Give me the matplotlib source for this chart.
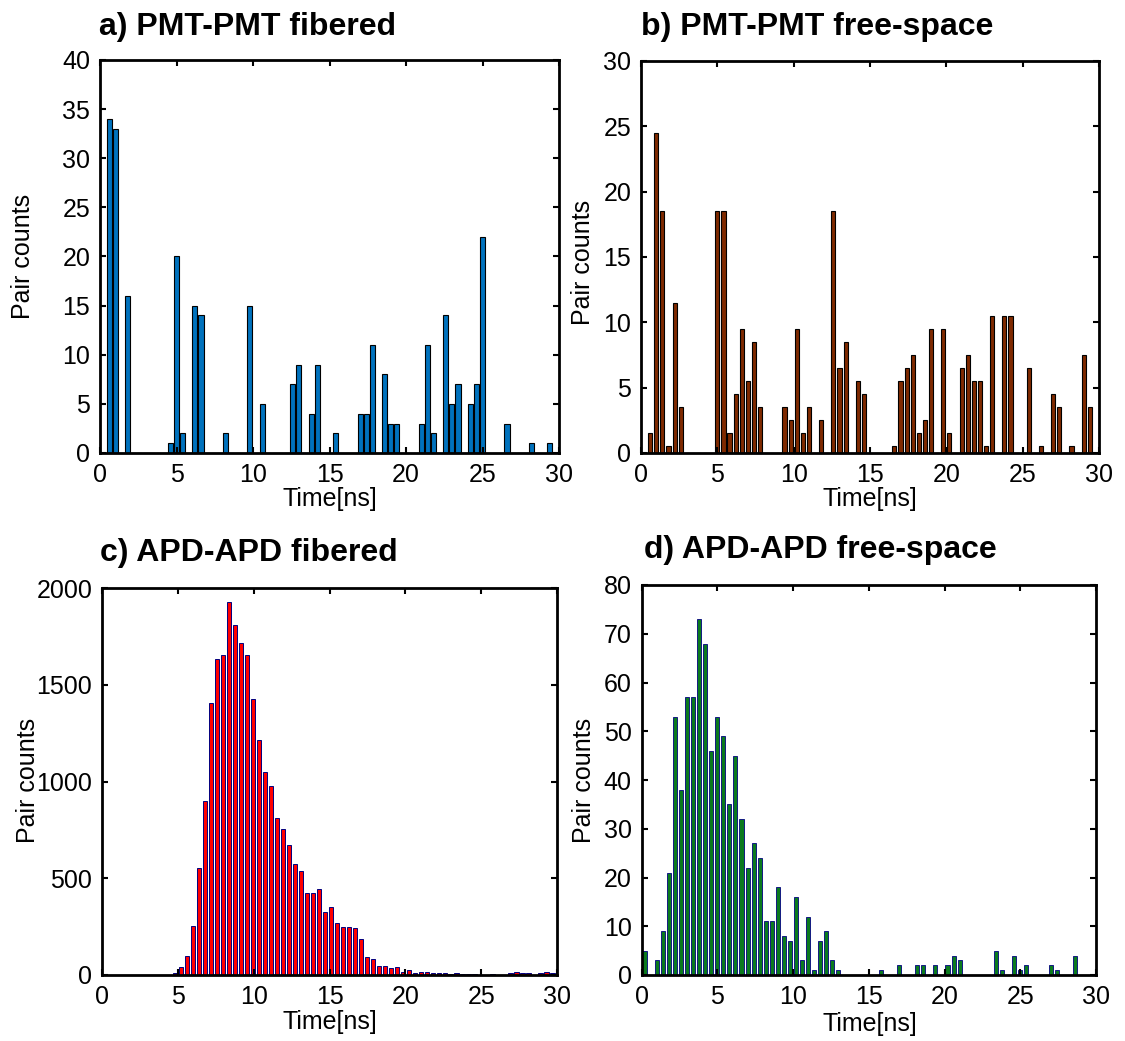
import numpy as np
import matplotlib
matplotlib.use("Agg")
import matplotlib.pyplot as plt

plt.rcParams['font.family'] = ['Liberation Sans', 'DejaVu Sans']

W, H = 1125, 1041

# ---------------- data ----------------
# bin centres (ns) for panels a, b, d (0.4 ns bins) and c (76 bins)
bins_abd = np.arange(75) * 0.4 + 0.2
bins_c = np.linspace(0.08, 29.7, 76)

counts_a = [0, 34, 33, 0, 16, 0, 0, 0, 0, 0, 0, 1, 20, 2, 0, 15, 14, 0, 0, 0,
            2, 0, 0, 0, 15, 0, 5, 0, 0, 0, 0, 7, 9, 0, 4, 9, 0, 0, 2, 0,
            0, 0, 4, 4, 11, 0, 8, 3, 3, 0, 0, 0, 3, 11, 2, 0, 14, 5, 7, 0,
            5, 7, 22, 0, 0, 0, 3, 0, 0, 0, 1, 0, 0, 1, 0]

counts_b = [0, 1.5, 24.5, 18.5, 0.5, 11.5, 3.5, 0, 0, 0, 0, 0, 18.5, 18.5, 1.5, 4.5, 9.5, 5.5, 8.5, 3.5,
            0, 0, 0, 3.5, 2.5, 9.5, 1.5, 3.5, 0, 2.5, 0, 18.5, 6.5, 8.5, 0, 5.5, 4.5, 0, 0, 0,
            0, 0.5, 5.5, 6.5, 7.5, 1.5, 2.5, 9.5, 0, 9.5, 1.5, 0, 6.5, 7.5, 5.5, 5.5, 0.5, 10.5, 0, 10.5,
            10.5, 0, 0, 6.5, 0, 0.5, 0, 4.5, 3.5, 0, 0.5, 0, 7.5, 3.5, 0]

counts_c = [0, 0, 0, 0, 2, 0, 0, 0, 0, 2, 1, 0, 12, 42, 98, 255, 551, 900, 1406, 1635,
            1654, 1927, 1810, 1714, 1654, 1425, 1212, 1048, 979, 812, 755, 673, 573, 535, 422, 422, 442, 327, 350, 270,
            249, 249, 241, 186, 95, 84, 48, 48, 36, 41, 14, 24, 12, 17, 17, 8, 8, 8, 3, 8,
            3, 5, 3, 0, 1, 5, 1, 1, 8, 14, 8, 12, 1, 8, 15, 8]

counts_d = [5, 0, 3, 9, 21, 53, 38, 57, 57, 73, 68, 46, 53, 49, 35, 45, 32, 22, 27, 24,
            11, 11, 18, 8, 7, 16, 3, 12, 1, 7, 9, 3, 1, 0, 0, 0, 0, 0, 0, 1,
            0, 0, 2, 0, 0, 2, 2, 0, 2, 0, 2, 4, 3, 0, 0, 0, 0, 0, 5, 1,
            0, 4, 1, 2, 0, 0, 0, 2, 1, 0, 0, 4, 0, 0, 0]

titles = ["a) PMT-PMT fibered", "b) PMT-PMT free-space",
          "c) APD-APD fibered", "d) APD-APD free-space"]
x_ticks = [0, 5, 10, 15, 20, 25, 30]
y_ticks_a = [0, 5, 10, 15, 20, 25, 30, 35, 40]
y_ticks_b = [0, 5, 10, 15, 20, 25, 30]
y_ticks_c = [0, 500, 1000, 1500, 2000]
y_ticks_d = [0, 10, 20, 30, 40, 50, 60, 70, 80]

# ---------------- layout (pixels) ----------------
panels = [
    dict(rect=(100, 60, 559, 453), x=bins_abd, y=counts_a, yt=y_ticks_a, w=0.33, lw=0.8,
         fc='#0072BD', ec='black', title_xy=(99, 35), xl=(330, 499), yl=(23, 256)),
    dict(rect=(641, 61, 1099, 453), x=bins_abd, y=counts_b, yt=y_ticks_b, w=0.27, lw=0.8,
         fc='#7F2A00', ec='black', title_xy=(641, 35), xl=(870, 499), yl=(583, 262)),
    dict(rect=(102, 588, 557, 975), x=bins_c, y=counts_c, yt=y_ticks_c, w=0.28, lw=0.7,
         fc='#FF0000', ec='#000080', title_xy=(100, 561), xl=(330, 1022), yl=(28, 780)),
    dict(rect=(641.5, 585, 1096, 975), x=bins_abd, y=counts_d, yt=y_ticks_d, w=0.27, lw=0.6,
         fc='#0B7A1E', ec='#000080', title_xy=(644, 558), xl=(870, 1024), yl=(584, 780)),
]

fig = plt.figure(figsize=(W / 100, H / 100), dpi=100)
fig.patch.set_facecolor('white')

for p, title in zip(panels, titles):
    l, t, r, b = p['rect']
    ax = fig.add_axes([l / W, 1 - b / H, (r - l) / W, (b - t) / H])
    ax.bar(p['x'], p['y'], width=p['w'], color=p['fc'], edgecolor=p['ec'],
           linewidth=p['lw'], align='center')
    ax.set_xlim(0, 30)
    ax.set_ylim(p['yt'][0], p['yt'][-1])
    ax.set_xticks(x_ticks)
    ax.set_yticks(p['yt'])
    ax.tick_params(direction='in', top=True, right=True, length=4, width=1.5,
                   labelsize=18, pad=7)
    for s in ax.spines.values():
        s.set_linewidth(2)
    xl_x, xl_y = p['xl']
    yl_x, yl_y = p['yl']
    fig.text(xl_x / W, 1 - xl_y / H, "Time[ns]", ha='center', va='center', fontsize=18)
    fig.text(yl_x / W, 1 - yl_y / H, "Pair counts", ha='center', va='center',
             fontsize=18, rotation=90)
    tx, ty = p['title_xy']
    fig.text(tx / W, 1 - ty / H, title, ha='left', va='baseline',
             fontsize=23, fontweight='bold')

fig.savefig("out.png", dpi=100, facecolor='white')
